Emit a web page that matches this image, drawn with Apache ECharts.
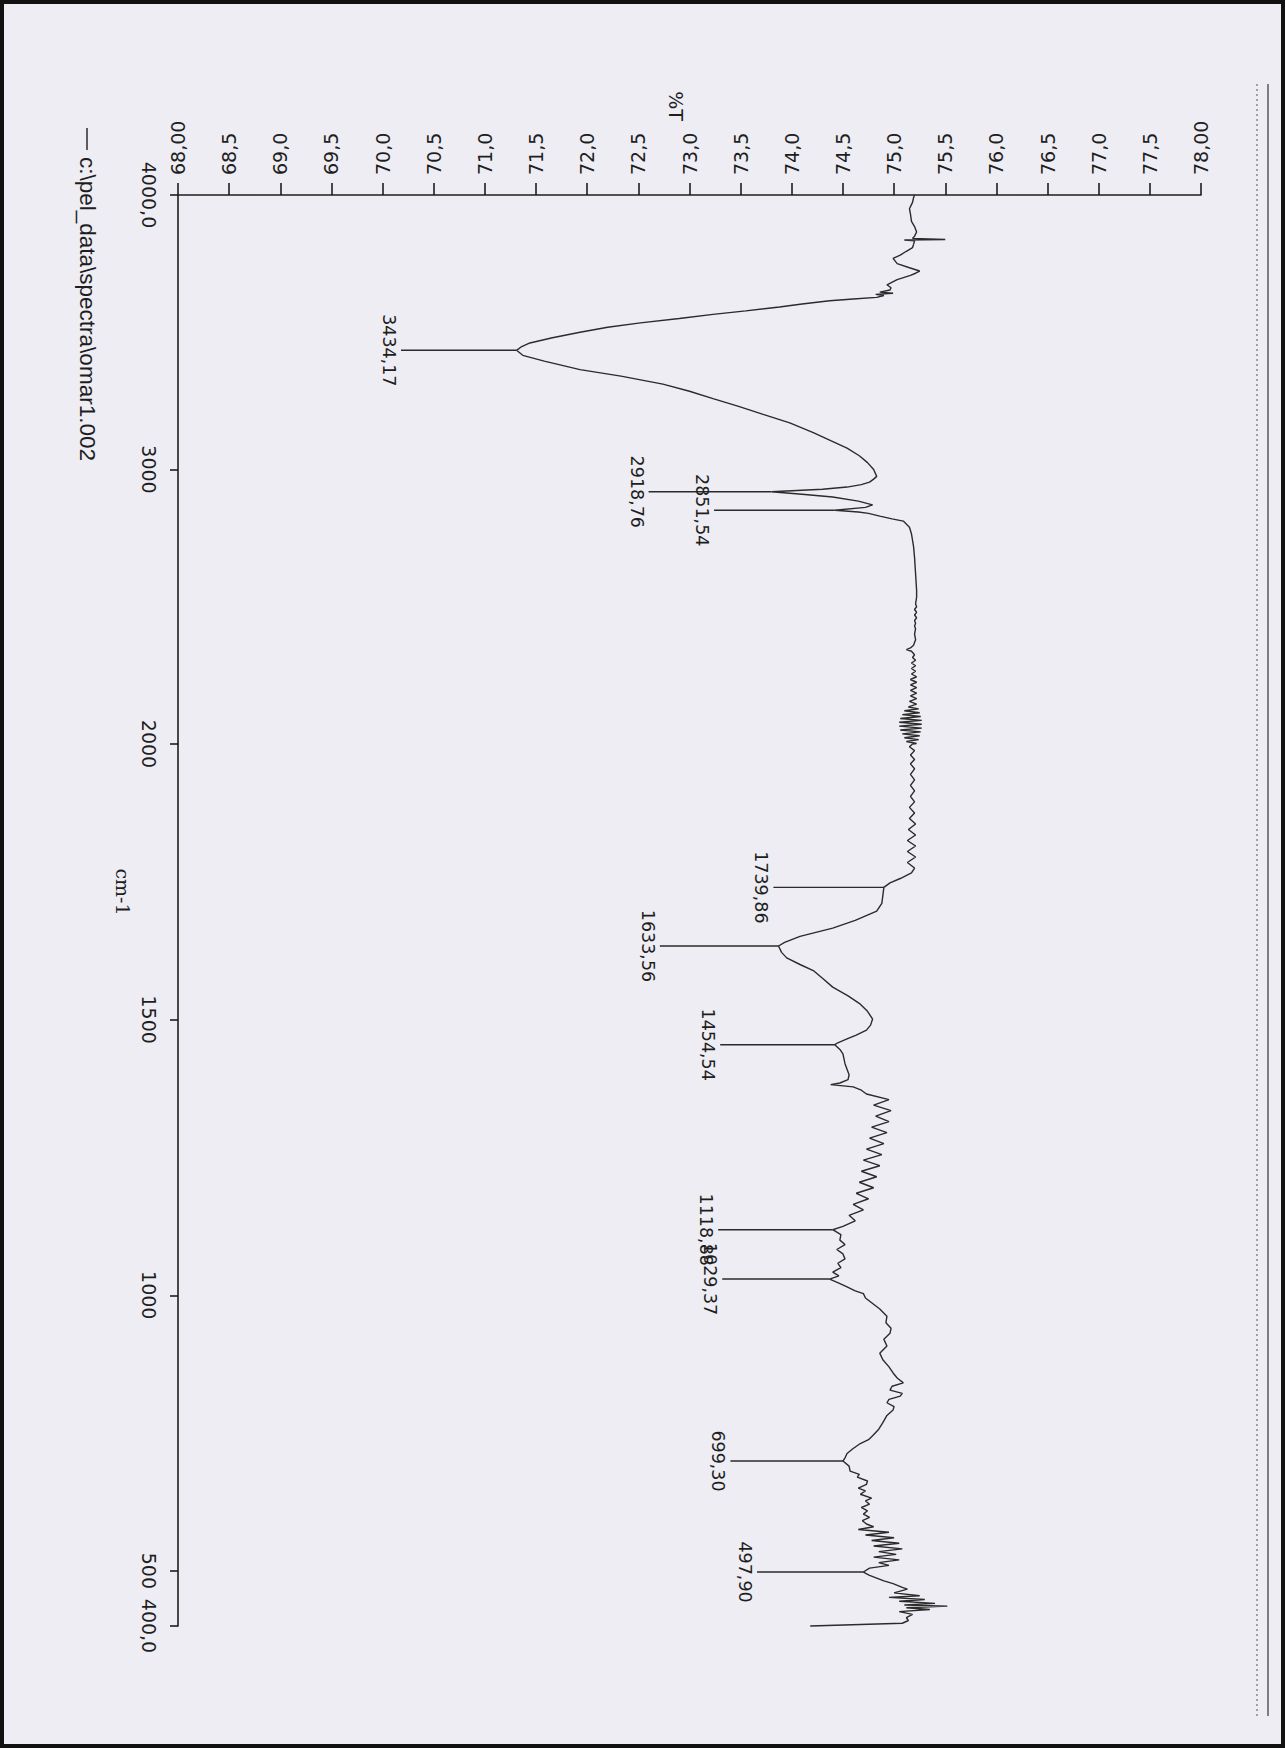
<!DOCTYPE html>
<html>
<head>
<meta charset="utf-8">
<script src="https://cdn.jsdelivr.net/npm/echarts@6/dist/echarts.min.js"></script>
<style>
html,body{margin:0;padding:0;background:#ededf3;}
#chart{width:1285px;height:1748px;}
</style>
</head>
<body>
<div id="chart"></div>
<script>
// ---------- DATA ----------
// Spectrum, high-wavenumber part (4000 -> 2000 cm-1)
const wnHigh = [4000,3990,3973,3950,3930,3904,3885,3865,3850,3842,3838,3836,3833,3820,3808,3795,3781,3769,3750,3735,3723,3715,3707,3692,3673,3662,3654,3646,3642,3638,3634,3627,3621,3615,3603,3592,3578,3565,3550,3534,3518,3500,3480,3461,3448,3434.17,3416,3395,3364,3340,3311,3285,3258,3230,3201,3170,3134,3105,3078,3050,3025,3000,2975,2965,2954,2945,2936,2928,2918.76,2910,2900,2885,2871,2862,2851.54,2845,2840,2830,2820,2812,2790,2765,2720,2679,2620,2560,2535,2510,2500,2490,2480,2470,2460,2450,2440,2430,2420,2400,2380,2360,2350,2344,2338,2325,2315,2305,2295,2285,2275,2265,2255,2245,2235,2225,2215,2205,2195,2185,2175,2165,2155,2145,2135,2128,2121,2114,2107,2100,2093,2086,2079,2072,2065,2058,2051,2044,2037,2030,2023,2016,2009,2002,2000];
const tHigh = [75.20,75.19,75.18,75.15,75.16,75.17,75.20,75.22,75.20,75.18,75.50,75.10,75.20,75.19,75.18,75.12,75.06,74.99,75.03,75.15,75.25,75.21,75.16,75.03,74.93,74.97,74.96,74.86,74.99,74.82,74.90,74.83,74.60,74.37,74.10,73.88,73.55,73.23,72.90,72.52,72.20,71.93,71.66,71.44,71.36,71.31,71.37,71.58,71.93,72.33,72.74,73.00,73.23,73.48,73.72,73.98,74.21,74.38,74.54,74.66,74.74,74.80,74.83,74.80,74.76,74.68,74.54,74.30,73.80,74.10,74.40,74.65,74.79,74.72,74.42,74.65,74.75,74.86,74.98,75.09,75.15,75.17,75.19,75.20,75.21,75.22,75.22,75.21,75.22,75.20,75.22,75.20,75.22,75.20,75.21,75.20,75.21,75.20,75.21,75.19,75.16,75.12,75.17,75.20,75.18,75.21,75.17,75.21,75.17,75.21,75.17,75.22,75.16,75.22,75.16,75.22,75.16,75.22,75.16,75.22,75.15,75.22,75.14,75.24,75.10,75.25,75.08,75.26,75.06,75.27,75.05,75.27,75.05,75.27,75.06,75.26,75.08,75.25,75.10,75.24,75.12,75.22,75.18];
// Spectrum, low-wavenumber part (2000 -> 400 cm-1)
const wnLow = [2000,1995,1988,1980,1972,1964,1955,1945,1935,1925,1915,1905,1895,1885,1875,1865,1855,1845,1835,1825,1815,1805,1795,1785,1775,1766,1756,1748,1739.86,1725,1711,1697,1680,1666,1651,1640,1633.56,1622,1612,1600,1589,1575,1559,1543,1528,1515,1501,1490,1481,1472,1465,1458,1454.54,1446,1438,1420,1400,1391,1385,1382,1378,1372,1365,1355,1345,1335,1325,1315,1305,1295,1285,1275,1265,1255,1245,1235,1225,1215,1205,1195,1185,1175,1165,1155,1145,1135,1125,1118.88,1110,1100,1092,1083,1075,1066,1058,1050,1042,1035,1029.37,1022,1015,1008,1003,995,985,975,962,950,940,931,920,908,895,883,870,859,850,841,835,828,822,817,811,805,798,792,782,769,757,745,738,731,722,713,705,699.3,690,681,675,670,663,657,650,645,639,632,627,621,615,609,603,597,591,585,580,575,570,565,560,555,550,545,540,535,530,525,520,515,510,505,497.9,492,487,482,477,470,467,460,455,452,448,445,441,438,436,433,430,426,421,415,410,405,400];
const tLow = [75.18,75.15,75.20,75.16,75.20,75.16,75.20,75.16,75.20,75.16,75.20,75.16,75.20,75.15,75.20,75.15,75.21,75.14,75.21,75.13,75.21,75.13,75.21,75.13,75.20,75.17,75.06,74.96,74.90,74.89,74.88,74.83,74.62,74.40,74.08,73.93,73.87,73.90,73.95,74.08,74.21,74.30,74.40,74.55,74.67,74.74,74.79,74.77,74.73,74.63,74.54,74.45,74.42,74.47,74.50,74.52,74.56,74.55,74.47,74.38,74.60,74.68,74.73,74.95,74.80,74.97,74.82,74.95,74.78,74.93,74.76,74.90,74.73,74.88,74.70,74.86,74.68,74.83,74.66,74.80,74.63,74.75,74.60,74.70,74.56,74.62,74.50,74.40,74.48,74.47,74.52,74.44,74.50,74.52,74.45,74.48,74.40,74.46,74.37,74.46,74.54,74.62,74.70,74.72,74.79,74.86,74.93,74.92,74.97,74.96,74.90,74.93,74.86,74.89,74.95,74.99,75.03,75.09,74.98,74.96,75.08,75.06,74.95,74.93,75.00,74.99,74.93,74.89,74.85,74.79,74.75,74.67,74.60,74.54,74.52,74.50,74.56,74.57,74.66,74.64,74.74,74.73,74.65,74.72,74.67,74.78,74.72,74.76,74.68,74.74,74.70,74.76,74.69,74.73,74.80,74.65,74.95,74.72,75.00,74.78,75.05,74.80,75.08,74.85,75.02,74.80,75.05,74.85,74.95,74.76,74.70,74.76,74.83,74.90,74.99,75.08,75.13,75.00,75.25,74.95,75.30,75.05,75.40,75.10,75.52,75.12,75.35,75.05,75.18,75.12,75.14,75.08,74.18];
// Labelled peaks
const peakWn = [3434.17,2918.76,2851.54,1739.86,1633.56,1454.54,1118.88,1029.37,699.30,497.90];
const peakT = [71.31,73.80,74.42,74.90,73.87,74.42,74.40,74.37,74.50,74.70];
const peakLabel = ['3434,17','2918,76','2851,54','1739,86','1633,56','1454,54','1118,88','1029,37','699,30','497,90'];
// Axis tick labels
const tTickValues = [68,68.5,69,69.5,70,70.5,71,71.5,72,72.5,73,73.5,74,74.5,75,75.5,76,76.5,77,77.5,78];
const tTickText = ['68,00','68,5','69,0','69,5','70,0','70,5','71,0','71,5','72,0','72,5','73,0','73,5','74,0','74,5','75,0','75,5','76,0','76,5','77,0','77,5','78,00'];
const wnTicksHigh = [4000,3000];
const wnTicksLow = [2000,1500,1000,500,400];
const wnTickText = {4000:'4000,0',3000:'3000',2000:'2000',1500:'1500',1000:'1000',500:'500',400:'400,0'};
const legendText = 'c:\\pel_data\\spectra\\omar1.002';
const xTitle = '%T';
const yTitle = 'cm-1';

// ---------- STYLE / LAYOUT ----------
const ink = '#1e1e1e';
// length of each peak-label leader line, in %T units (layout only)
const peakLineLen = [1.13,1.20,1.18,1.08,1.16,1.12,1.12,1.05,1.10,1.04];

const chart = echarts.init(document.getElementById('chart'), null, {renderer:'svg'});

const highData = wnHigh.map((w,i)=>[tHigh[i], w]);
const lowData = wnLow.map((w,i)=>[tLow[i], w]);
const peaksHigh = [], peaksLow = [];
peakWn.forEach((w,i)=>{
  const item = {value:[peakT[i], w], label:peakLabel[i], len:peakLineLen[i]};
  (w >= 2000 ? peaksHigh : peaksLow).push(item);
});

function makeRender(list){
  return function(params, api){
    const it = list[params.dataIndex];
    const p = api.coord([api.value(0), api.value(1)]);
    const q = api.coord([api.value(0) - it.len, api.value(1)]);
    return {type:'group', children:[
      {type:'line', shape:{x1:p[0], y1:p[1], x2:q[0], y2:q[1]}, style:{stroke:'#2a2a2a', lineWidth:1.4}},
      {type:'text', x:q[0]-3, y:q[1], rotation:-Math.PI/2,
       style:{text:it.label, align:'center', verticalAlign:'top',
              font:'17.5px "DejaVu Sans"', fill:ink}}
    ]};
  };
}

const gridLeft = 178, gridWidth = 1023;
const axisLineStyle = {color:ink, width:1.6};
const labelFont = {color:ink, fontFamily:'DejaVu Sans', fontSize:19};

chart.setOption({
  animation:false,
  backgroundColor:'#ededf3',
  grid:[
    {left:gridLeft, width:gridWidth, top:195, height:549},
    {left:gridLeft, width:gridWidth, top:744, height:882}
  ],
  xAxis:[
    {type:'value', gridIndex:0, position:'top', min:68, max:78, interval:0.5,
     axisLine:{show:true, onZero:false, lineStyle:axisLineStyle},
     axisTick:{show:true, inside:false, length:12, lineStyle:axisLineStyle},
     axisLabel:Object.assign({rotate:-90, margin:20,
       formatter:v=>tTickText[tTickValues.indexOf(Math.round(v*2)/2)]}, labelFont),
     splitLine:{show:false}},
    {type:'value', gridIndex:1, min:68, max:78, show:false, splitLine:{show:false}}
  ],
  yAxis:[
    {type:'value', gridIndex:0, min:2000, max:4000,
     axisLine:{show:true, onZero:false, lineStyle:axisLineStyle},
     axisTick:{show:true, length:8, customValues:wnTicksHigh, lineStyle:axisLineStyle},
     axisLabel:Object.assign({rotate:-90, margin:20, customValues:wnTicksHigh,
       formatter:v=>wnTickText[v]}, labelFont),
     splitLine:{show:false}},
    {type:'value', gridIndex:1, min:400, max:2000,
     axisLine:{show:true, onZero:false, lineStyle:axisLineStyle},
     axisTick:{show:true, length:8, customValues:wnTicksLow, lineStyle:axisLineStyle},
     axisLabel:Object.assign({rotate:-90, margin:20, customValues:wnTicksLow,
       formatter:v=>wnTickText[v]}, labelFont),
     splitLine:{show:false}}
  ],
  series:[
    {name:legendText, type:'line', xAxisIndex:0, yAxisIndex:0, data:highData, showSymbol:false, symbol:'none',
     clip:false, lineStyle:{color:'#2b2b2b', width:1.4}},
    {name:legendText, type:'line', xAxisIndex:1, yAxisIndex:1, data:lowData, showSymbol:false, symbol:'none',
     clip:false, lineStyle:{color:'#2b2b2b', width:1.4}},
    {type:'custom', xAxisIndex:0, yAxisIndex:0, data:peaksHigh, renderItem:makeRender(peaksHigh), clip:false},
    {type:'custom', xAxisIndex:1, yAxisIndex:1, data:peaksLow, renderItem:makeRender(peaksLow), clip:false}
  ],
  graphic:[
    {type:'rect', shape:{x:2, y:2, width:1281, height:1744}, style:{fill:'none', stroke:'#111', lineWidth:4}, silent:true},
    {type:'line', shape:{x1:1268, y1:84, x2:1268, y2:1716}, style:{stroke:'#333', lineWidth:1.2}, silent:true},
    {type:'line', shape:{x1:1257, y1:84, x2:1257, y2:1716}, style:{stroke:'#555', lineWidth:1, lineDash:[2,3]}, silent:true},
    {type:'text', x:676, y:106, rotation:-Math.PI/2,
     style:{text:xTitle, align:'center', verticalAlign:'middle', font:'19px "DejaVu Sans"', fill:ink}},
    {type:'text', x:123, y:892, rotation:-Math.PI/2,
     style:{text:yTitle, align:'center', verticalAlign:'middle', font:'19px "DejaVu Serif"', fill:ink}},
    {type:'line', shape:{x1:87, y1:128, x2:87, y2:150}, style:{stroke:ink, lineWidth:1.4}},
    {type:'text', x:87, y:157, rotation:-Math.PI/2,
     style:{text:legendText, align:'left', verticalAlign:'middle', font:'22.5px "Liberation Sans"', fill:ink}}
  ]
});
</script>
</body>
</html>
